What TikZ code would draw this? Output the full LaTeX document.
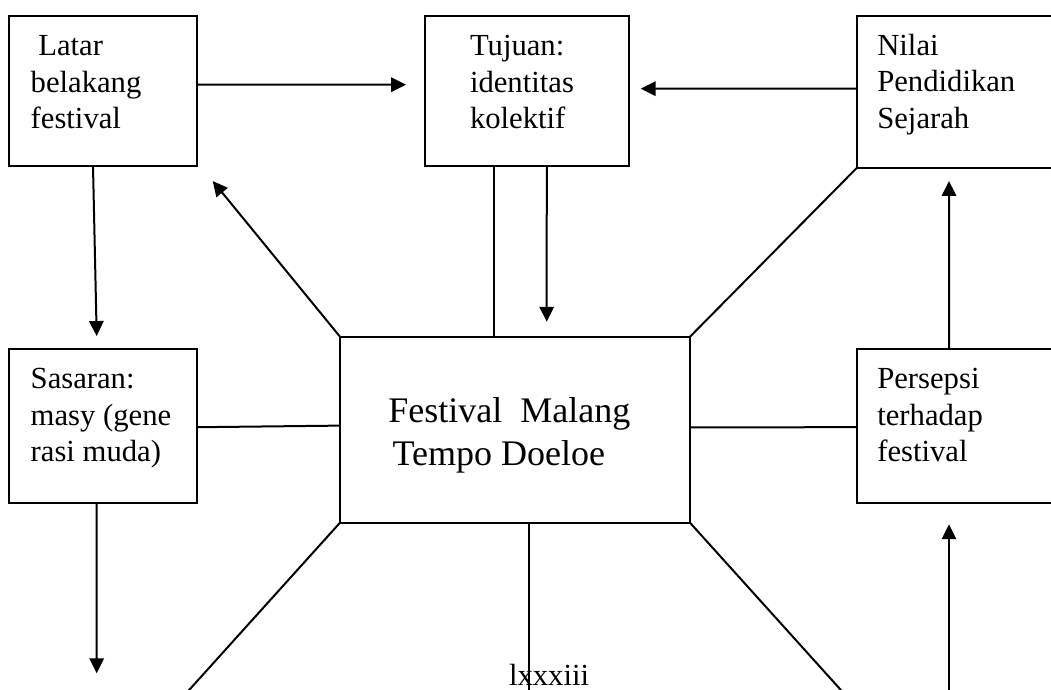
\documentclass[tikz,border=0pt]{standalone}
\usepackage{fontspec}
\setmainfont{Liberation Serif}
\usetikzlibrary{arrows.meta,calc}
\begin{document}
\begin{tikzpicture}[x=0.375pt,y=-0.375pt,
  line width=0.75pt,
  box/.style={draw,rectangle,inner sep=0pt,outer sep=0pt,anchor=north west},
  txt/.style={inner sep=0pt,outer sep=0pt,anchor=base west,align=left,font=\fontsize{11.5pt}{13.6pt}\selectfont},
  bigtxt/.style={inner sep=0pt,outer sep=0pt,anchor=base west,align=left,font=\fontsize{13.5pt}{15.9pt}\selectfont},
  arr/.style={-{Triangle[length=5.6pt,width=5.4pt]}}]
\useasboundingbox (0,0) rectangle (1051,689);
\clip (0,0) rectangle (1051,689);
% boxes
\node[box,minimum width=70.39pt,minimum height=56.25pt] (latar) at (9,16) {};
\node[box,minimum width=76.61pt,minimum height=56.25pt] (tujuan) at (425,16) {};
\node[box,minimum width=80pt,minimum height=57pt] (nilai) at (856.7,16) {};
\node[box,minimum width=70.39pt,minimum height=57.75pt] (sasaran) at (9,349.3) {};
\node[box,minimum width=131.25pt,minimum height=69.75pt] (center) at (340,336.7) {};
\node[box,minimum width=80pt,minimum height=57.75pt] (persepsi) at (856.7,349.3) {};
% texts (anchored at the baseline of the last line)
\node[txt] (tlatar) at (30.7,128.5) {\hspace*{0.25em}Latar\\belakang\\festival};
\node[txt] (ttujuan) at (470,128.5) {Tujuan:\\identitas\\kolektif};
\node[txt] (tnilai) at (877.3,128) {Nilai\\Pendidikan\\Sejarah};
\node[txt] (tsasaran) at (30.7,461.5) {Sasaran:\\masy (gene\\rasi muda)};
\node[txt] (tpersepsi) at (877.3,461.5) {Persepsi\\terhadap\\festival};
\node[bigtxt] (tcenter) at (388.3,465) {Festival\ \ Malang\\\hspace*{1.6pt}Tempo Doeloe};
\node[txt] (page) at (509,685) {lxxxiii};
% free ends
\coordinate (e1) at (406,84.7);
\coordinate (e2) at (640.7,88.7);
\coordinate (e3) at (96.7,336);
\coordinate (e4) at (212.7,181);
\coordinate (e6) at (546.7,321.7);
\coordinate (e8) at (949,181);
\coordinate (e11) at (96.7,673.3);
\coordinate (e12) at (181,699);
\coordinate (e13) at (529,699);
\coordinate (e14) at (849,699);
\coordinate (s15) at (949,699);
\coordinate (e15) at (949,524.3);
% connectors
\draw[arr] ($(latar.north east)!0.458!(latar.south east)$) -- (e1);
\draw[arr] ($(nilai.north west)!0.478!(nilai.south west)$) -- (e2);
\draw[arr] ($(latar.south west)!0.4475!(latar.south east)$) -- (e3);
\draw[arr] (center.north west) -- (e4);
\draw ($(tujuan.south west)!0.338!(tujuan.south east)$) coordinate (t5) -- (t5 |- center.north);
\draw[arr] ($(tujuan.south west)!0.596!(tujuan.south east)$) -- (e6);
\draw (center.north east) -- (nilai.south west);
\draw[arr] ($(persepsi.north west)!0.433!(persepsi.north east)$) -- (e8);
\draw ($(sasaran.north east)!0.506!(sasaran.south east)$) -- ($(center.north west)!0.478!(center.south west)$);
\draw ($(center.north east)!0.487!(center.south east)$) -- ($(persepsi.north west)!0.506!(persepsi.south west)$);
\draw[arr] ($(sasaran.south west)!0.467!(sasaran.south east)$) -- (e11);
\draw (center.south west) -- (e12);
\draw ($(center.south west)!0.54!(center.south east)$) coordinate (t13) -- (t13 |- e13);
\draw (center.south east) -- (e14);
\draw[arr] (s15) -- (e15);
\end{tikzpicture}
\end{document}
